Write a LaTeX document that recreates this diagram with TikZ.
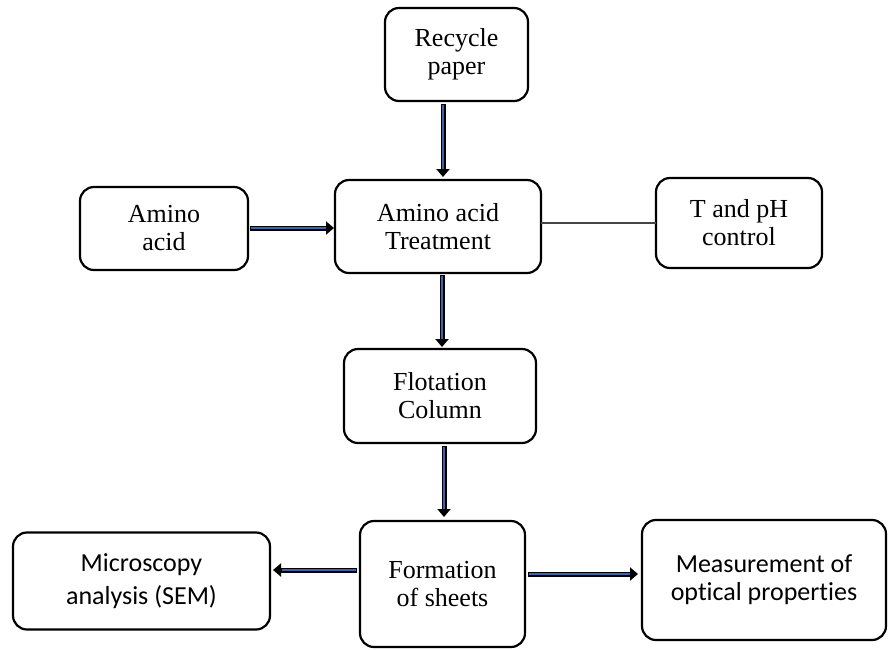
\documentclass[tikz,border=0pt]{standalone}
\usepackage{fontspec}
\setmainfont{Liberation Serif}
\newfontfamily\calfont[RawFeature=-liga]{Carlito}
\usetikzlibrary{arrows.meta,calc}
\definecolor{arrowblue}{RGB}{62,98,172}
\definecolor{linegray}{RGB}{70,70,70}
\newcommand\barrow[2]{%
  \draw[line width=5pt,-{Triangle[width=13pt,length=8pt]}] #1 -- #2;
  \draw[line width=2pt,arrowblue,shorten <=1.3pt,shorten >=8.5pt] #1 -- #2;}
\tikzset{
  box/.style={draw,line width=2.2pt,rounded corners=14pt,align=center,inner sep=0pt,outer sep=0pt},
  serifbox/.style={box,font=\fontsize{26}{28}\selectfont},
  sansbox/.style={box,font=\calfont\fontsize{26}{28}\selectfont},
}
\begin{document}
\begin{tikzpicture}[x=1pt,y=-1pt]
\useasboundingbox[fill=white] (0,0) rectangle (888,649);
\node[serifbox,minimum width=143pt,minimum height=93pt] (rec) at (456.5,54.5) {Recycle\\paper};
\node[serifbox,minimum width=168pt,minimum height=83pt] (amino) at (164,228.5) {Amino\\acid};
\node[serifbox,minimum width=206pt,minimum height=93pt] (treat) at (438,226.5) {Amino acid\\Treatment};
\node[serifbox,minimum width=166pt,minimum height=90pt] (tph) at (739,223) {T and pH\\control};
\node[serifbox,minimum width=192pt,minimum height=94pt] (flot) at (440,396) {Flotation\\Column};
\node[serifbox,minimum width=165pt,minimum height=126pt] (form) at (442.5,584) {Formation\\of sheets};
\node[sansbox,minimum width=257pt,minimum height=97pt,font=\calfont\fontsize{26}{33}\selectfont] (micro) at (141.5,581) {Microscopy\\analysis (SEM)};
\node[sansbox,minimum width=244pt,minimum height=120pt] (meas) at (764,580) {Measurement of\\optical properties};

\barrow{($(rec.south)+(-13.5,3)$)}{($(treat.north)+(5,-3)$)}
\barrow{($(amino.east)+(2,-0.5)$)}{($(treat.west)+(-1,1.5)$)}
\barrow{($(treat.south)+(4,2)$)}{($(flot.north)+(2,-2)$)}
\barrow{($(flot.south)+(4,3)$)}{($(form.north)+(1.5,-4)$)}
\barrow{($(form.west)+(-3,-14)$)}{($(micro.east)+(3,-11)$)}
\barrow{($(form.east)+(3,-10)$)}{($(meas.west)+(-4,-6)$)}
\draw[linegray,line width=1.8pt] (treat.east |- tph.west) -- (tph.west);
\end{tikzpicture}
\end{document}
